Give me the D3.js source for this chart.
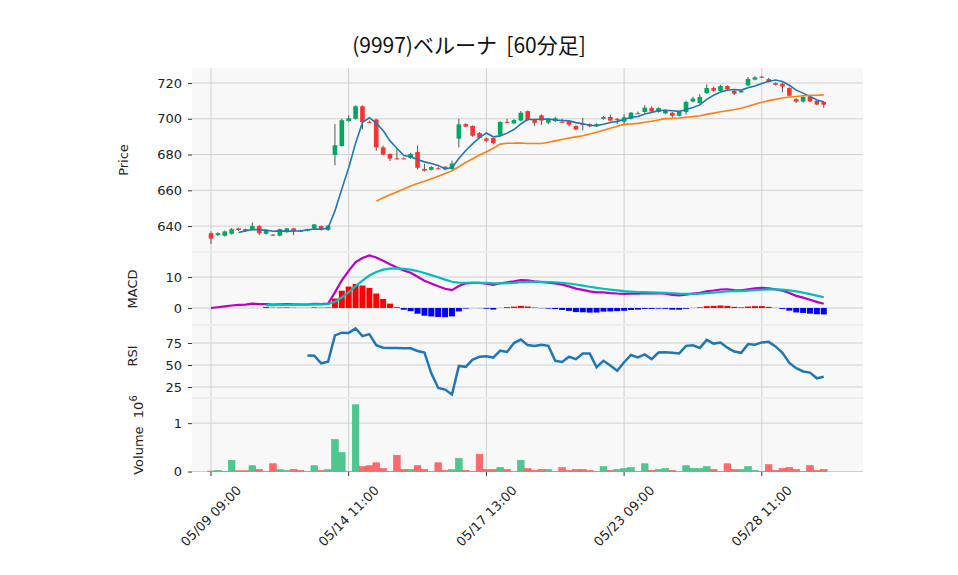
<!DOCTYPE html>
<html><head><meta charset="utf-8">
<script src="https://cdn.jsdelivr.net/npm/d3@7"></script>
<style>body{margin:0;background:#fff}text{font-family:"DejaVu Sans",sans-serif}</style>
</head><body><svg id="c" width="958" height="575"></svg>
<script>
const title = "(9997)ベルーナ\u00a0\u00a0[60分足]";
const tickIdx = [0, 20, 40, 60, 80];
const tickLabels = ["05/09 09:00", "05/14 11:00", "05/17 13:00", "05/23 09:00", "05/28 11:00"];
const opens = [636,635,634.6,635.7,638.7,638.3,638,640,635.7,635.2,634.6,636.8,638.7,637.4,637.4,638.7,640,637.8,679.8,684.8,
 698.8,700,707,698.3,699.6,684,680.3,677.9,677.9,678,681.4,672,671.5,672.3,673.2,671.9,688.9,697,696,692,
 689,689.2,691,698.3,697.4,699,704.3,699.3,701.9,697.8,698.8,698.3,698.4,696,697.1,697,695.8,700,701,699.9,
 698.4,700,703,703.8,706,703.8,703,703.4,701.7,703.8,709.6,708.8,714.4,717.2,715.5,718.3,715.7,714.8,718.7,721.9,
 723.5,722.2,720,719.6,717.2,711,709.6,712.2,710,709.4];
const closes = [633,636,637,638.3,637.8,637.4,640,636,637.4,634.9,638.3,638.7,637,637.3,638.1,640.9,638,640.2,685.2,699.2,
 700.3,707,698.2,698.2,684,680,677.7,677.8,677.8,680.3,672.6,671,673,672.2,671.7,675,696.9,695.6,690.5,689.4,
 687.7,686.4,698.2,698.2,699.3,703.4,699.3,697.8,699,700,700.3,698.2,696.7,694,697,695.8,697,701,699,699.9,
 700.8,703.4,703.1,706.2,704,706,704.7,701.7,704.2,709.4,711.3,712.2,717.2,715.7,718.3,716.5,714,715.7,722.3,723.2,
 723.3,720.6,719,718,712.9,709.6,712.2,709.7,708,707.9];
const highs = [637,636.5,637.5,638.9,639,638.6,642,640.5,637.8,635.5,638.6,639,639,638,638.5,641.2,640.3,640.5,697,700,
 702,707.5,707.5,699,700,685,680.6,683,678.3,681,685,674.8,673.5,673,673.5,676.6,700,697.5,696.3,692.5,
 689.5,689.5,698.6,700,699.8,704.3,704.6,700,702.5,700.5,701,700,698.8,696.3,700.5,697.4,697.4,701.6,702.3,700.5,
 702.5,703.8,704,707.6,707,706.4,705.2,703.8,704.6,710,712.3,713.8,719.3,717.9,719,718.7,716,716.2,723.4,723.8,
 724,722.8,720.3,720.2,717.5,711.5,712.6,712.5,710.3,709.8];
const lows = [630,634.5,634.2,635.2,637.3,636.8,637.6,635,635.2,634.4,634.2,636.3,635,636.8,637,638.3,637.5,637.3,674,684.4,
 698.3,699.6,694,697.8,682.1,679.5,676.4,677.3,677.3,677.6,671.7,670.6,671,671.8,671.2,671.3,684,695.2,690,689,
 687.2,685.6,690.5,697.8,697,698.6,698.8,696,696.6,697,698.2,697.6,695.7,693.6,693.5,695.3,695.4,699.6,698.5,697,
 696.4,699.6,702.6,703.3,703.5,703.4,702.5,700.6,701.3,702.4,709.2,708.4,713.9,715.2,715.1,716.1,713.3,714.3,718.2,721.5,
 723,720.3,718.6,714.8,712.6,708.8,709.2,709.3,707.6,706.2];
const volumes = [0.01,0.02,0.005,0.23,0.015,0.015,0.12,0.04,0.005,0.16,0.04,0.02,0.04,0.02,0.005,0.12,0.02,0.04,0.66,0.39,
 0.005,1.38,0.10,0.12,0.18,0.06,0.005,0.33,0.04,0.04,0.12,0.04,0.005,0.18,0.02,0.04,0.27,0.02,0.005,0.35,
 0.04,0.04,0.08,0.04,0.005,0.23,0.06,0.02,0.04,0.04,0.005,0.08,0.02,0.04,0.04,0.02,0.005,0.10,0.02,0.04,
 0.06,0.08,0.005,0.16,0.02,0.04,0.06,0.02,0.005,0.12,0.06,0.06,0.10,0.04,0.005,0.16,0.04,0.04,0.10,0.02,
 0.005,0.14,0.02,0.06,0.08,0.04,0.005,0.12,0.02,0.04];

const N = closes.length;
function sma(a,n){return a.map((v,i)=>i<n-1?null:d3.mean(a.slice(i-n+1,i+1)));}
function ema(a,n){const k=2/(n+1);let r=[];a.forEach((v,i)=>r.push(i===0?v:v*k+r[i-1]*(1-k)));return r;}
const ma5=sma(closes,5), ma25=sma(closes,25);
const e12=ema(closes,12), e26=ema(closes,26);
const macd=e12.map((v,i)=>v-e26[i]);
const sigFull=ema(macd,9);
const signal=sigFull.map((v,i)=>i<8?null:v);
const hist=macd.map((v,i)=>i<8?null:v-sigFull[i]);
const rsi=closes.map((c,i)=>{if(i<14)return null;let g=0,l=0;for(let j=i-13;j<=i;j++){const d=closes[j]-closes[j-1];if(d>0)g+=d;else l-=d;}return l===0?100:100-100/(1+g/l);});

const svg=d3.select("#c");
const L=192,R=863;
const x=d3.scaleLinear().domain([-2.76,94.7]).range([L,R]);
const panels=[
 {y0:68,y1:252,dom:[625.5,728.4],ticks:[640,660,680,700,720],label:"Price"},
 {y0:252,y1:325,dom:[-5.5,18.1],ticks:[0,10],label:"MACD"},
 {y0:325,y1:398,dom:[12.5,95.5],ticks:[25,50,75],label:"RSI"},
 {y0:398,y1:472,dom:[-0.01,1.52],ticks:[0,1],label:"Volume"}];
panels.forEach(p=>{
 p.y=d3.scaleLinear().domain(p.dom).range([p.y1,p.y0]);
 svg.append("rect").attr("x",L).attr("y",p.y0).attr("width",R-L).attr("height",p.y1-p.y0).attr("fill","#f8f8f8");
 p.ticks.forEach(t=>{svg.append("line").attr("x1",L).attr("x2",R).attr("y1",p.y(t)).attr("y2",p.y(t)).attr("stroke","#d0d0d0").attr("stroke-width",1);});
 tickIdx.forEach(t=>svg.append("line").attr("x1",x(t)).attr("x2",x(t)).attr("y1",p.y0).attr("y2",p.y1).attr("stroke","#d0d0d0").attr("stroke-width",1));
 const ax=svg.append("g").attr("transform",`translate(${L},0)`).call(d3.axisLeft(p.y).tickValues(p.ticks).tickFormat(d3.format("d")).tickSize(4).tickPadding(6));
 ax.select(".domain").remove();ax.selectAll("line").attr("stroke","#333");
 ax.selectAll("text").attr("font-size",13).attr("fill","#222").style("font-family","DejaVu Sans");
});
panels.slice(1).forEach(p=>svg.append("line").attr("x1",L).attr("x2",R).attr("y1",p.y0).attr("y2",p.y0).attr("stroke","#eeeeee").attr("stroke-width",2));
const up="#00a860",dn="#ff3030";
const P=panels[0];
const cw=4.6;
const cg=svg.append("g");
for(let i=0;i<N;i++){
 const c=closes[i]>=opens[i]?up:dn;
 cg.append("line").attr("x1",x(i)).attr("x2",x(i)).attr("y1",P.y(highs[i])).attr("y2",P.y(lows[i])).attr("stroke","#555").attr("stroke-width",1);
 const t=P.y(Math.max(opens[i],closes[i])),b=P.y(Math.min(opens[i],closes[i]));
 cg.append("rect").attr("x",x(i)-cw/2).attr("y",t).attr("width",cw).attr("height",Math.max(b-t,1)).attr("fill",c);
}
function line(p,data,color,w){
 svg.append("path").datum(data.map((v,i)=>[i,v])).attr("fill","none").attr("stroke",color).attr("stroke-width",w)
 .attr("d",d3.line().defined(d=>d[1]!=null).x(d=>x(d[0])).y(d=>p.y(d[1])));
}
line(P,ma5,"#1f77b4",1.6);
line(P,ma25,"#ff7f0e",1.6);
const M=panels[1];
hist.forEach((v,i)=>{if(v==null)return;svg.append("rect").attr("x",x(i)-3).attr("width",6).attr("y",Math.min(M.y(v),M.y(0))).attr("height",Math.abs(M.y(v)-M.y(0))).attr("fill",v>=0?"#ff0000":"#0000ff");});
line(M,macd,"#bf00bf",2.2);
line(M,signal,"#00bfbf",2.2);
line(panels[2],rsi,"#1f77b4",2.5);
const V=panels[3];
volumes.forEach((v,i)=>{const c=closes[i]>=opens[i];svg.append("rect").attr("x",x(i)-3.3).attr("width",6.6).attr("y",V.y(v)).attr("height",V.y(0)-V.y(v)).attr("fill",c?"#4cc790":"#ff6b6b").attr("stroke",c?"#3cbf80":"#ff5050").attr("stroke-width",0.6);});
tickIdx.forEach((t,k)=>{
 svg.append("line").attr("x1",x(t)).attr("x2",x(t)).attr("y1",472).attr("y2",476).attr("stroke","#333");
 svg.append("text").attr("transform",`translate(${x(t)},${516}) rotate(-45)`).attr("text-anchor","middle").attr("dy","0.35em").attr("font-size",13).attr("fill","#222").text(tickLabels[k]);
});
[[128,160,"Price"],[137,289,"MACD"],[137,356,"RSI"]].forEach(([lx,ly,s])=>svg.append("text").attr("transform",`translate(${lx},${ly}) rotate(-90)`).attr("text-anchor","middle").attr("font-size",13).attr("fill","#222").text(s));
const vt=svg.append("text").attr("transform",`translate(143,435) rotate(-90)`).attr("text-anchor","middle").attr("font-size",13).attr("fill","#222");
vt.append("tspan").text("Volume\u00a0\u00a010");
vt.append("tspan").attr("dy",-6).attr("font-size",10).text("6");
svg.append("text").attr("x",469).attr("y",53).attr("text-anchor","middle").attr("font-size",21).attr("fill","#111").style("font-family","'Noto Sans CJK JP',sans-serif").text(title);
</script></body></html>
